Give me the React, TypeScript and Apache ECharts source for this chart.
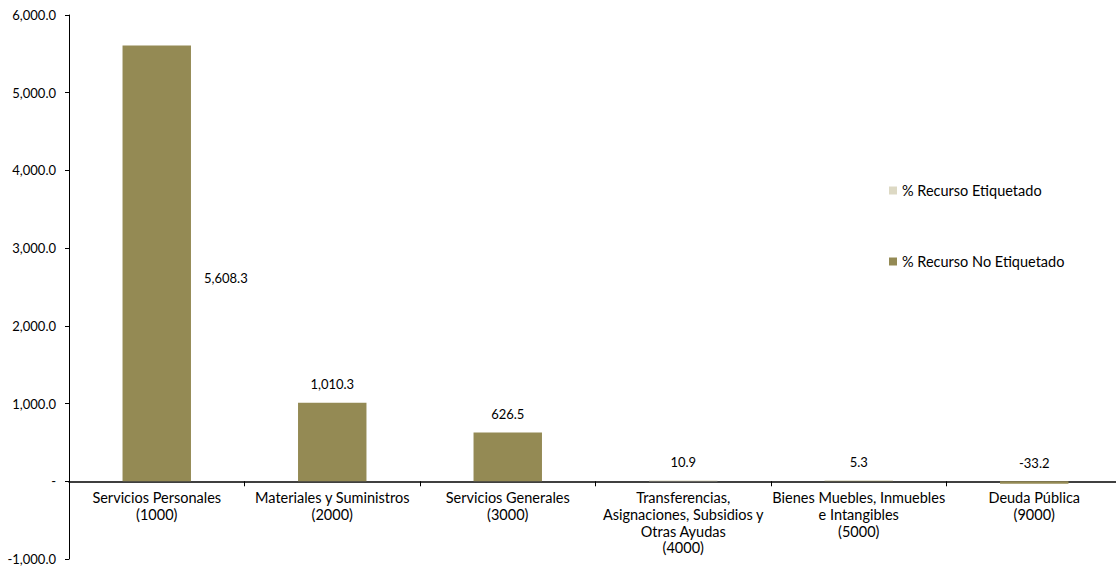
import React, { useEffect, useRef } from "react";
import * as echarts from "echarts";

const categories = [
  "Servicios Personales\n(1000)",
  "Materiales y Suministros\n(2000)",
  "Servicios Generales\n(3000)",
  "Transferencias,\nAsignaciones, Subsidios y\nOtras Ayudas\n(4000)",
  "Bienes Muebles, Inmuebles\ne Intangibles\n(5000)",
  "Deuda Pública\n(9000)",
];
const etiquetado = [0, 0, 0, 10.9, 0, 0];
const noEtiquetado = [5608.3, 1010.3, 626.5, 0, 5.3, -33.2];
const totals = [5608.3, 1010.3, 626.5, 10.9, 5.3, -33.2];

const fmt = (v: number) =>
  v.toLocaleString("en-US", { minimumFractionDigits: 1, maximumFractionDigits: 1 });

const Y_MIN = -1000;
const Y_MAX = 6000;
const GRID_TOP = 15;
const GRID_BOTTOM = 7;
const H = 566;

export default function App() {
  const ref = useRef<HTMLDivElement>(null);
  useEffect(() => {
    if (!ref.current) return;
    const chart = echarts.init(ref.current, undefined, { renderer: "svg" });
    const font = "Lato";
    const plotH = H - GRID_TOP - GRID_BOTTOM;
    const zeroOffset = -(plotH * (0 - Y_MIN)) / (Y_MAX - Y_MIN);
    chart.setOption({
      animation: false,
      textStyle: { fontFamily: font, color: "#000" },
      legend: {
        orient: "vertical",
        left: 884,
        top: 178,
        itemWidth: 8,
        itemHeight: 8,
        itemGap: 56,
        itemTextGap: 4,
        icon: "rect",
        textStyle: { fontFamily: font, fontSize: 14.5, color: "#000" },
        data: ["% Recurso Etiquetado", "% Recurso No Etiquetado"],
      },
      grid: {
        left: 69,
        top: GRID_TOP,
        bottom: GRID_BOTTOM,
        width: 1053,
        containLabel: false,
        outerBoundsMode: "none",
      },
      xAxis: {
        type: "category",
        data: categories,
        offset: zeroOffset,
        axisLine: { onZero: false, lineStyle: { color: "#000", width: 1.5 } },
        axisTick: { show: true, interval: 0, length: 5, lineStyle: { color: "#000" } },
        axisLabel: {
          interval: 0,
          fontFamily: font,
          fontSize: 14.5,
          color: "#000",
          lineHeight: 16.7,
          margin: 8,
          align: "center",
        },
      },
      yAxis: {
        type: "value",
        min: Y_MIN,
        max: Y_MAX,
        interval: 1000,
        splitLine: { show: false },
        axisLine: { show: true, lineStyle: { color: "#000", width: 1 } },
        axisTick: { show: true, length: 4, lineStyle: { color: "#000" } },
        axisLabel: {
          fontFamily: font,
          fontSize: 13,
          color: "#000",
          margin: 13,
          formatter: (v: number) => (v === 0 ? "-" : fmt(v)),
        },
      },
      series: [
        {
          name: "% Recurso Etiquetado",
          type: "bar",
          stack: "t",
          barWidth: "39%",
          itemStyle: { color: "#DDD9C4" },
          data: etiquetado,
        },
        {
          name: "% Recurso No Etiquetado",
          type: "bar",
          stack: "t",
          barWidth: "39%",
          itemStyle: { color: "#948A54" },
          data: noEtiquetado.map((v, i) =>
            i === 0
              ? {
                  value: v,
                  label: { position: "right", distance: 13, offset: [0, 15] },
                }
              : { value: v }
          ),
          label: {
            show: true,
            position: "top",
            distance: 12,
            fontFamily: font,
            fontSize: 13,
            color: "#000",
            formatter: (p: any) => fmt(totals[p.dataIndex]),
          },
        },
      ],
    });
    return () => chart.dispose();
  }, []);
  return (
    <div
      ref={ref}
      style={{ position: "absolute", left: 0, top: 0, width: 1116, height: H }}
    />
  );
}
